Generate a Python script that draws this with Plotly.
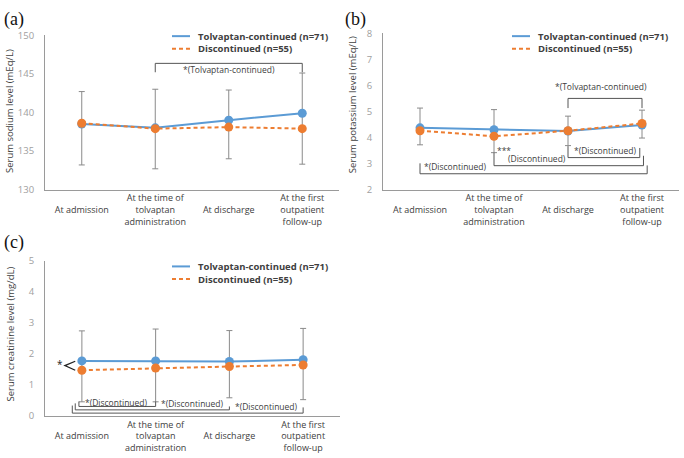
import plotly.graph_objects as go

# ---------------- data ----------------
categories = ["<br>At admission",
              "At the time of<br>tolvaptan<br>administration",
              "<br>At discharge",
              "At the first<br>outpatient<br>follow-up"]
x_idx = [0, 1, 2, 3]

series_names = ["Tolvaptan-continued (n=71)", "Discontinued (n=55)"]

sodium_tolv = [138.5, 138.0, 139.0, 139.9]
sodium_disc = [138.6, 137.9, 138.1, 137.9]
sodium_hi = [142.7, 143.0, 142.9, 145.1]
sodium_lo = [133.2, 132.7, 134.0, 133.3]

potassium_tolv = [4.37, 4.30, 4.25, 4.48]
potassium_disc = [4.26, 4.05, 4.26, 4.54]
potassium_hi = [5.13, 5.07, 4.82, 5.05]
potassium_lo = [3.72, 3.42, 3.69, 3.98]

creat_tolv = [1.77, 1.77, 1.75, 1.81]
creat_disc = [1.47, 1.54, 1.59, 1.64]
creat_hi = [2.74, 2.80, 2.75, 2.82]
creat_lo = [0.45, 0.45, 0.58, 0.52]

sodium_ticks = [130, 135, 140, 145, 150]
potassium_ticks = [2, 3, 4, 5, 6, 7, 8]
creat_ticks = [0, 1, 2, 3, 4, 5]

# ---------------- style ----------------
W, H = 684, 458
BLUE = "#5B9BD5"
ORANGE = "#ED7D31"
GRAY_ERR = "#8a8a8a"
AXIS = "#9a9a9a"
TXT = "#404040"
FONT = "Open Sans"

def px(x):
    return x / W

def py(y):
    return 1 - y / H

panels = [
    dict(xa="x", ya="y", tolv=sodium_tolv, disc=sodium_disc, hi=sodium_hi, lo=sodium_lo,
         xdom=[px(45), px(339)], ydom=[py(188), py(29)], yr=[130, 150], ticks=sodium_ticks,
         title="Serum sodium level (mEq/L)", tx=10, ty=107, label="(a)", lx=2, ly=13,
         leg_x=172, leg_y=30),
    dict(xa="x2", ya="y2", tolv=potassium_tolv, disc=potassium_disc, hi=potassium_hi, lo=potassium_lo,
         xdom=[px(383), px(679)], ydom=[py(188), py(27)], yr=[2, 8], ticks=potassium_ticks,
         title="Serum potassium level (mEq/L)", tx=352, ty=101, label="(b)", lx=343, ly=13,
         leg_x=512, leg_y=30),
    dict(xa="x3", ya="y3", tolv=creat_tolv, disc=creat_disc, hi=creat_hi, lo=creat_lo,
         xdom=[px(45), px(340)], ydom=[py(420.7), py(261.3)], yr=[0, 5], ticks=creat_ticks,
         title="Serum creatinine level (mg/dL)", tx=10, ty=337, label="(c)", lx=2, ly=242,
         leg_x=172, leg_y=267),
]

fig = go.Figure()
shapes = []
annotations = []

for i, p in enumerate(panels):
    fig.add_trace(go.Scatter(
        x=x_idx, y=p["tolv"], mode="lines+markers", name=series_names[0],
        xaxis=p["xa"], yaxis=p["ya"], showlegend=False,
        line=dict(color=BLUE, width=2), marker=dict(color=BLUE, size=9),
        error_y=dict(type="data", symmetric=False,
                     array=[h - v for h, v in zip(p["hi"], p["tolv"])],
                     arrayminus=[v - l for v, l in zip(p["tolv"], p["lo"])],
                     color=GRAY_ERR, thickness=1, width=3),
    ))
    fig.add_trace(go.Scatter(
        x=x_idx, y=p["disc"], mode="lines+markers", name=series_names[1],
        xaxis=p["xa"], yaxis=p["ya"], showlegend=False,
        line=dict(color=ORANGE, width=2, dash="4px,3px"), marker=dict(color=ORANGE, size=9),
    ))
    sfx = "" if i == 0 else str(i + 1)
    fig.update_layout(**{
        "xaxis" + sfx: dict(domain=p["xdom"], anchor="y" + sfx, range=[-0.5, 3.5],
                            tickvals=x_idx, ticktext=categories, showgrid=False, zeroline=False,
                            showline=True, linecolor=AXIS, linewidth=1, ticks="",
                            tickfont=dict(family=FONT, size=9, color=TXT)),
        "yaxis" + sfx: dict(domain=p["ydom"], anchor="x" + sfx, range=p["yr"],
                            tickvals=p["ticks"], showgrid=False, zeroline=False,
                            showline=True, linecolor=AXIS, linewidth=1, ticks="",
                            ticklabelstandoff=8,
                            tickfont=dict(family=FONT, size=9.5, color="#a0a0a0")),
    })
    # axis title
    annotations.append(dict(text=p["title"], x=px(p["tx"]), y=py(p["ty"]), xref="paper", yref="paper",
                            textangle=-90, showarrow=False, xanchor="center", yanchor="middle",
                            font=dict(family=FONT, size=9.5, color=TXT)))
    # panel label
    annotations.append(dict(text=p["label"], x=px(p["lx"]), y=py(p["ly"]), xref="paper", yref="paper",
                            showarrow=False, xanchor="left", yanchor="middle",
                            font=dict(family="Liberation Serif", size=18, color="#111")))
    # legend
    for j, (col, dash) in enumerate([(BLUE, "solid"), (ORANGE, "4px,3px")]):
        yy = p["leg_y"] + 13 * j
        shapes.append(dict(type="line", xref="paper", yref="paper",
                           x0=px(p["leg_x"]), x1=px(p["leg_x"] + 18), y0=py(yy), y1=py(yy),
                           line=dict(color=col, width=2, dash=dash)))
        annotations.append(dict(text="<b>" + series_names[j] + "</b>", x=px(p["leg_x"] + 24), y=py(yy),
                                xref="paper", yref="paper", showarrow=False,
                                xanchor="left", yanchor="middle",
                                font=dict(family=FONT, size=9.5, color=TXT)))

# ---------------- significance brackets ----------------
BR = dict(color="#555", width=1)
SMALL = dict(family=FONT, size=8.5, color=TXT)

def bracket(xr, yr, x0, x1, yleg0, yh, yleg1):
    shapes.append(dict(type="path", xref=xr, yref=yr,
                       path=f"M {x0},{yleg0} L {x0},{yh} L {x1},{yh} L {x1},{yleg1}",
                       line=BR))

def label(xr, yr, x, y, text, anchor="center"):
    annotations.append(dict(text=text, x=x, y=y, xref=xr, yref=yr, showarrow=False,
                            xanchor=anchor, yanchor="middle", font=SMALL))

# (a)
bracket("x", "y", 1, 3, 145.2, 146.35, 145.2)
label("x", "y", 2, 145.55, "*(Tolvaptan-continued)")

# (b)
bracket("x2", "y2", 2, 3, 5.13, 5.50, 5.13)
label("x2", "y2", 2.45, 5.95, "*(Tolvaptan-continued)")
bracket("x2", "y2", 2, 2.97, 3.67, 3.23, 3.60)
label("x2", "y2", 2.5, 3.52, "*(Discontinued)")
bracket("x2", "y2", 1, 3.02, 3.42, 2.92, 3.30)
label("x2", "y2", 1.02, 3.52, "***", anchor="left")
label("x2", "y2", 1.16, 3.20, "(Discontinued)", anchor="left")
bracket("x2", "y2", 0, 3.07, 3.01, 2.61, 2.93)
label("x2", "y2", 0.48, 2.90, "*(Discontinued)")

# (c)
bracket("x3", "y3", -0.04, 1.0, 0.46, 0.30, 0.46)
label("x3", "y3", 0.47, 0.42, "*(Discontinued)")
bracket("x3", "y3", -0.09, 2.0, 0.40, 0.19, 0.30)
label("x3", "y3", 1.5, 0.40, "*(Discontinued)")
bracket("x3", "y3", -0.13, 3.0, 0.33, 0.085, 0.27)
label("x3", "y3", 2.51, 0.30, "*(Discontinued)")
# "*<" marker at admission in (c)
shapes.append(dict(type="path", xref="x3", yref="y3",
                   path="M -0.09,1.76 L -0.23,1.62 L -0.09,1.47",
                   line=dict(color="#222", width=1.3)))
annotations.append(dict(text="*", x=-0.30, y=1.66, xref="x3", yref="y3", showarrow=False,
                        font=dict(family=FONT, size=10, color="#222")))

fig.update_layout(
    width=W, height=H, margin=dict(l=0, r=0, t=0, b=0),
    paper_bgcolor="white", plot_bgcolor="white",
    shapes=shapes, annotations=annotations, showlegend=False,
)

fig.write_html("out.html")
